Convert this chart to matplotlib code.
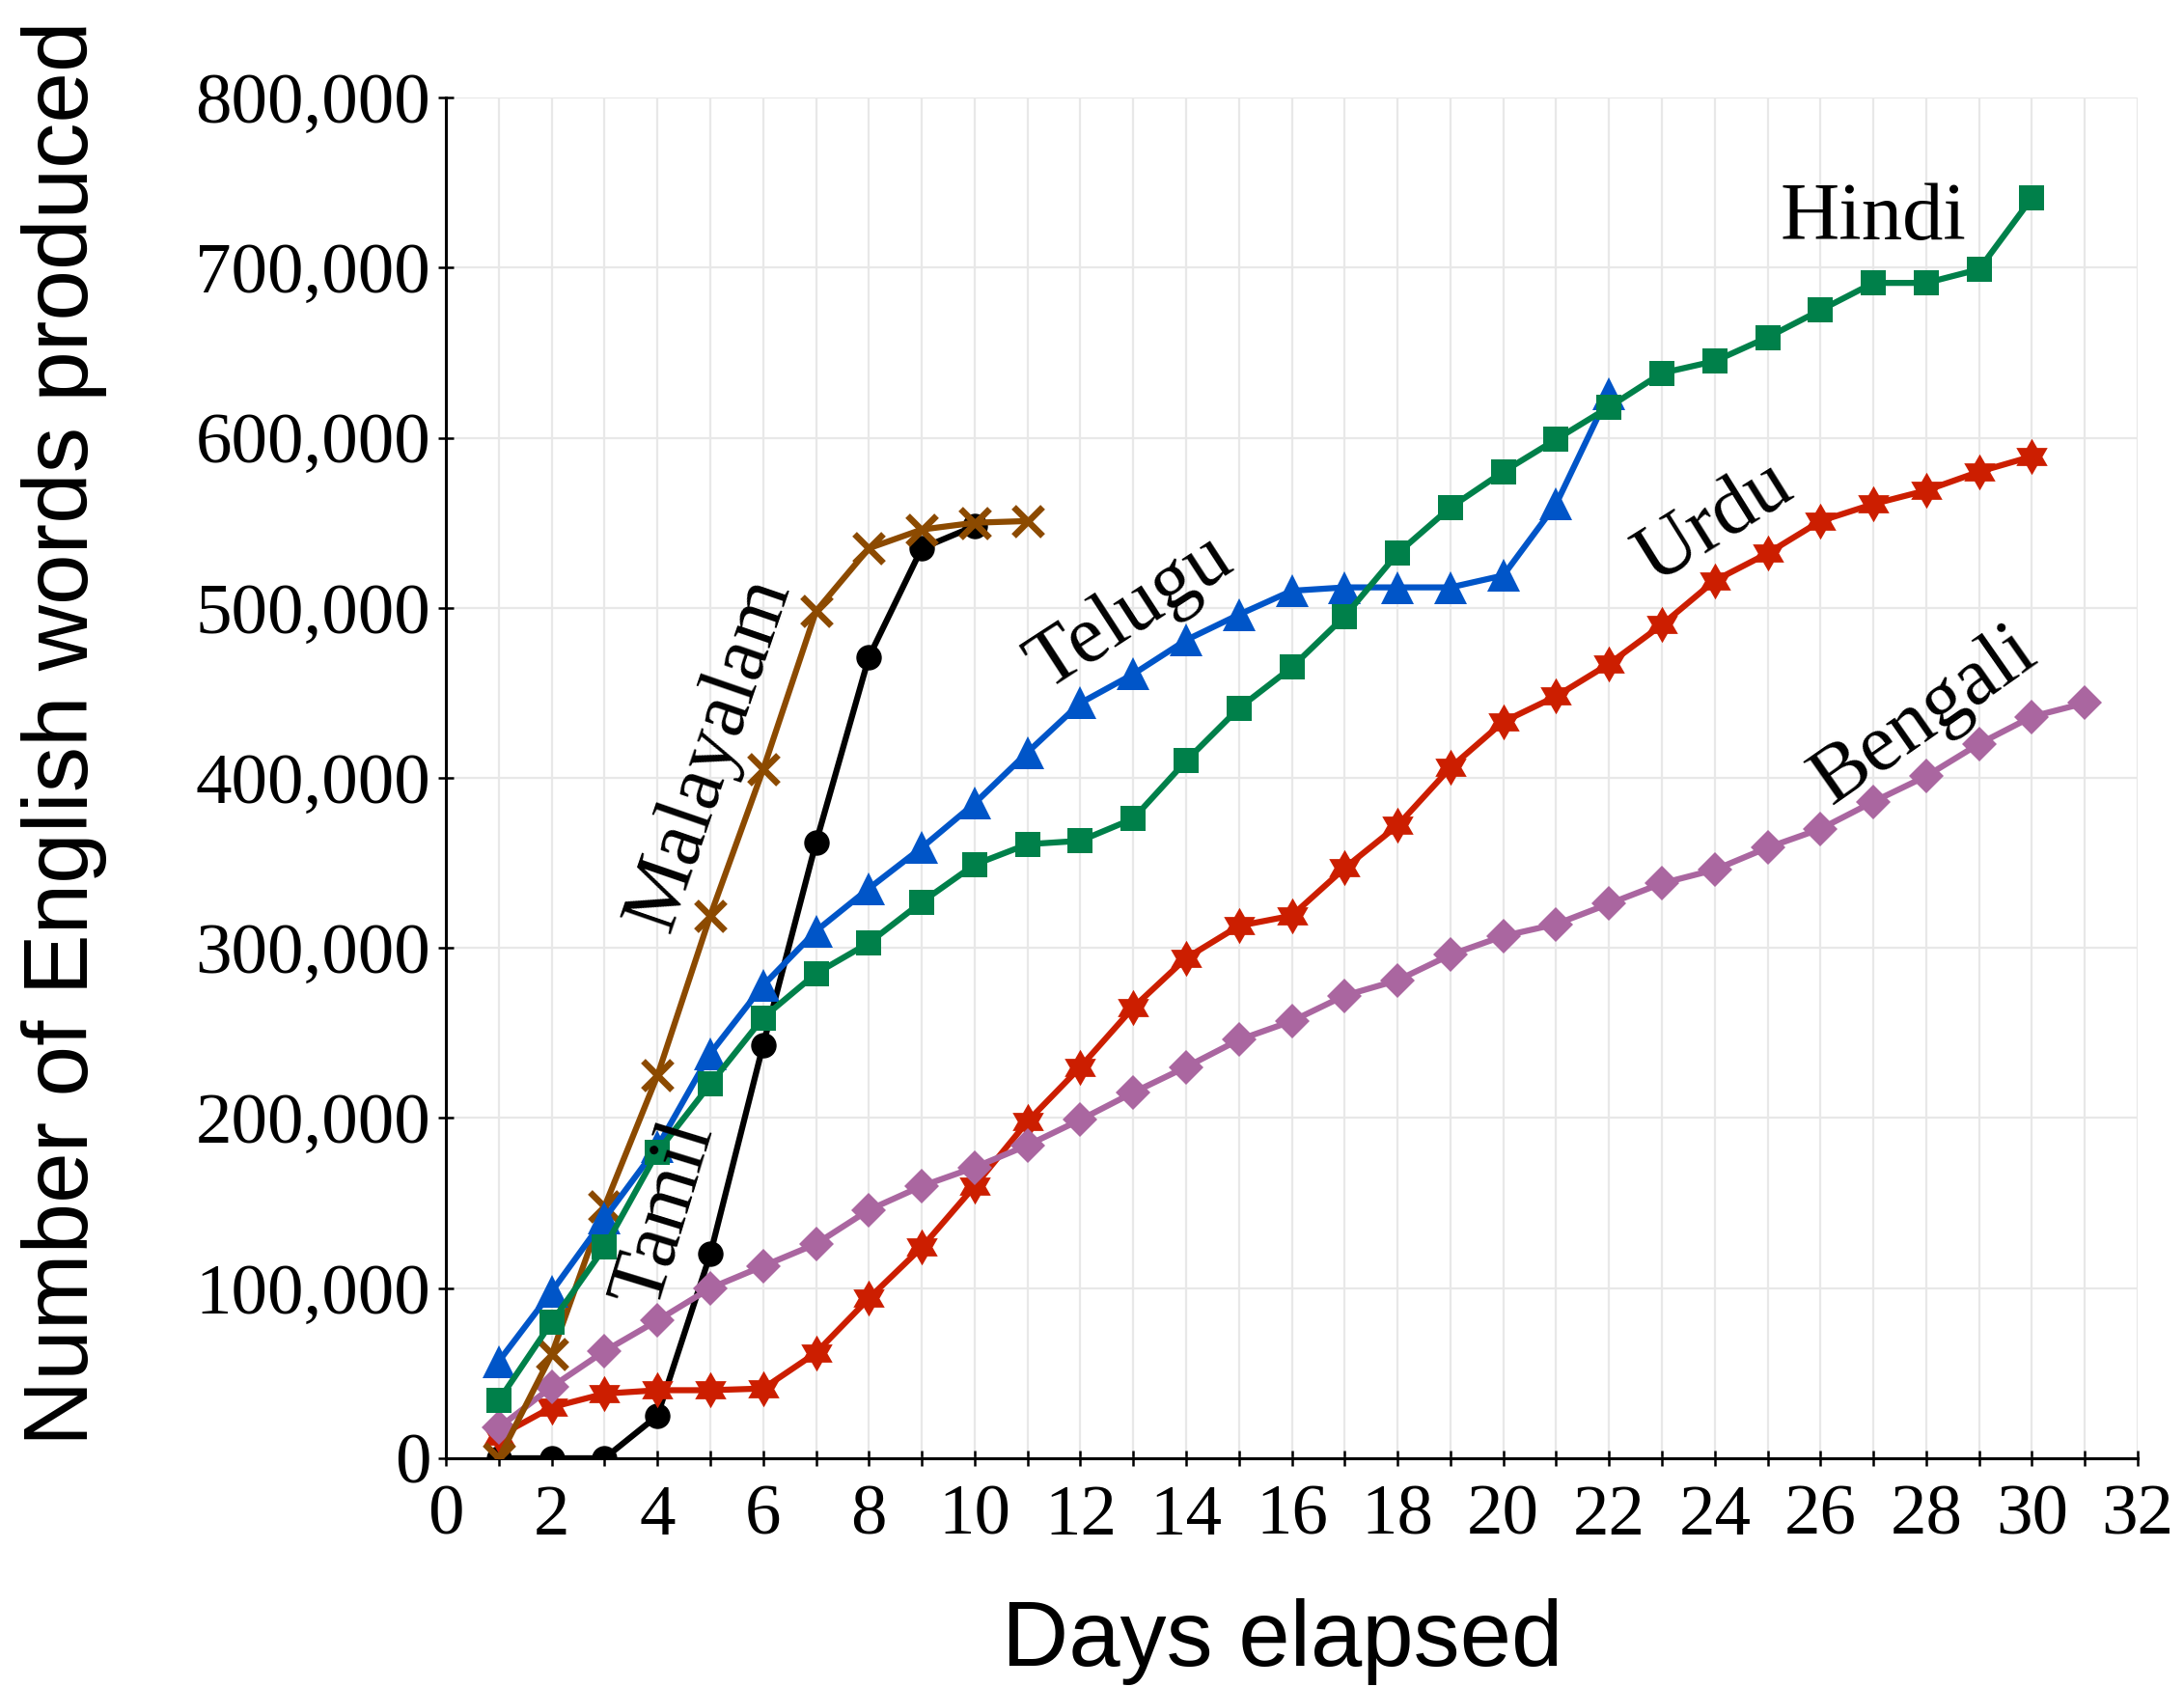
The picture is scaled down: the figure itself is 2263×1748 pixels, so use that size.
import matplotlib
matplotlib.use('Agg')
import matplotlib.pyplot as plt
from matplotlib.path import Path
from matplotlib.ticker import FuncFormatter, MultipleLocator

# words produced per day
tamil_days = list(range(1, 11))
tamil = [0, 0, 0, 25000, 120000, 243000, 362000, 471000, 535000, 548000]

malayalam_days = list(range(1, 12))
malayalam = [0, 61000, 148000, 225000, 319000, 405000, 498000, 535000, 546000, 550000, 551000]

telugu_days = list(range(1, 23))
telugu = [57000, 98000, 141000, 183000, 238000, 278000, 310000, 335000, 359000, 385000,
          415000, 444000, 461000, 481000, 496000, 510000, 512000, 512000, 512000, 519000,
          561000, 626000]

hindi_days = list(range(1, 31))
hindi = [34000, 80000, 124000, 180000, 220000, 259000, 285000, 303000, 327000, 349000,
         361000, 363000, 376000, 410000, 441000, 465000, 495000, 532000, 559000, 580000,
         599000, 618000, 638000, 645000, 659000, 675000, 691000, 691000, 699000, 741000]

urdu_days = list(range(1, 31))
urdu = [13000, 30000, 38000, 40000, 40000, 41000, 62000, 94000, 124000, 160000,
        198000, 230000, 265000, 294000, 313000, 319000, 347000, 372000, 406000, 433000,
        448000, 467000, 490000, 516000, 532000, 551000, 561000, 569000, 580000, 589000]

bengali_days = list(range(1, 32))
bengali = [18000, 42000, 63000, 81000, 100000, 113000, 126000, 146000, 160000, 171000,
           184000, 199000, 215000, 230000, 246000, 257000, 272000, 281000, 296000, 307000,
           314000, 326000, 338000, 346000, 359000, 370000, 386000, 401000, 420000, 436000,
           444000]

# label text, position (day, words) and rotation
labels = ['Tamil', 'Malayalam', 'Telugu', 'Hindi', 'Urdu', 'Bengali']
label_x = [4.16, 5.0, 12.96, 27.0, 24.0, 27.97]
label_y = [143500, 414000, 497000, 728500, 550000, 436000]
label_rot = [73, 71, 33, 0, 32, 35]

serif = 'Liberation Serif'
sans = 'Liberation Sans'

hexagram = Path.unit_regular_star(6, 0.577)

fig = plt.figure(figsize=(22.63, 17.48), dpi=100)
ax = fig.add_axes([0.2042, 0.1356, 0.7746, 0.8066])

lw = 4.5
ax.plot(tamil_days, tamil, color='#000000', lw=lw, marker='o', ms=18, zorder=3)
ax.plot(urdu_days, urdu, color='#CC1E00', lw=lw, marker=hexagram, ms=27, mew=0, zorder=3)
ax.plot(bengali_days, bengali, color='#AA66A0', lw=lw, marker='D', ms=18, mew=0, zorder=3)
ax.plot(malayalam_days, malayalam, color='#8C4A00', lw=lw, marker='x', ms=22, mew=4.8, zorder=3)
ax.plot(telugu_days, telugu, color='#0055C8', lw=lw, marker='^', ms=24, mew=0, zorder=3)
ax.plot(hindi_days, hindi, color='#00804A', lw=lw, marker='s', ms=19, mew=0, zorder=3)

for t, x, y, r in zip(labels, label_x, label_y, label_rot):
    ax.text(x, y, t, rotation=r, ha='center', va='center', fontsize=61,
            family=serif, zorder=5, rotation_mode='anchor')

ax.set_xlim(0, 32)
ax.set_ylim(0, 800000)
ax.xaxis.set_major_locator(MultipleLocator(2))
ax.xaxis.set_minor_locator(MultipleLocator(1))
ax.yaxis.set_major_locator(MultipleLocator(100000))
ax.yaxis.set_major_formatter(FuncFormatter(lambda v, p: f'{int(v):,}'))

ax.grid(True, which='both', axis='x', color='#E8E8E8', lw=1.6, zorder=0)
ax.grid(True, which='major', axis='y', color='#E8E8E8', lw=1.6, zorder=0)
ax.set_axisbelow(True)

for s in ['top', 'right']:
    ax.spines[s].set_visible(False)
for s in ['left', 'bottom']:
    ax.spines[s].set_linewidth(2.2)
    ax.spines[s].set_color('black')

ax.tick_params(which='both', direction='inout', length=11, width=1.8, color='black')
ax.tick_params(axis='x', pad=14)
ax.tick_params(axis='y', pad=6)
for lab in ax.get_xticklabels() + ax.get_yticklabels():
    lab.set_fontfamily(serif)
    lab.set_fontsize(54)

ax.set_xlabel('Days elapsed', family=sans, fontsize=69)
ax.set_ylabel('Number of English words produced', family=sans, fontsize=68)
ax.xaxis.set_label_coords(0.4946, -0.103)
ax.yaxis.set_label_coords(-0.2005, 0.533)

fig.savefig('out.png', dpi=100, facecolor='white')
